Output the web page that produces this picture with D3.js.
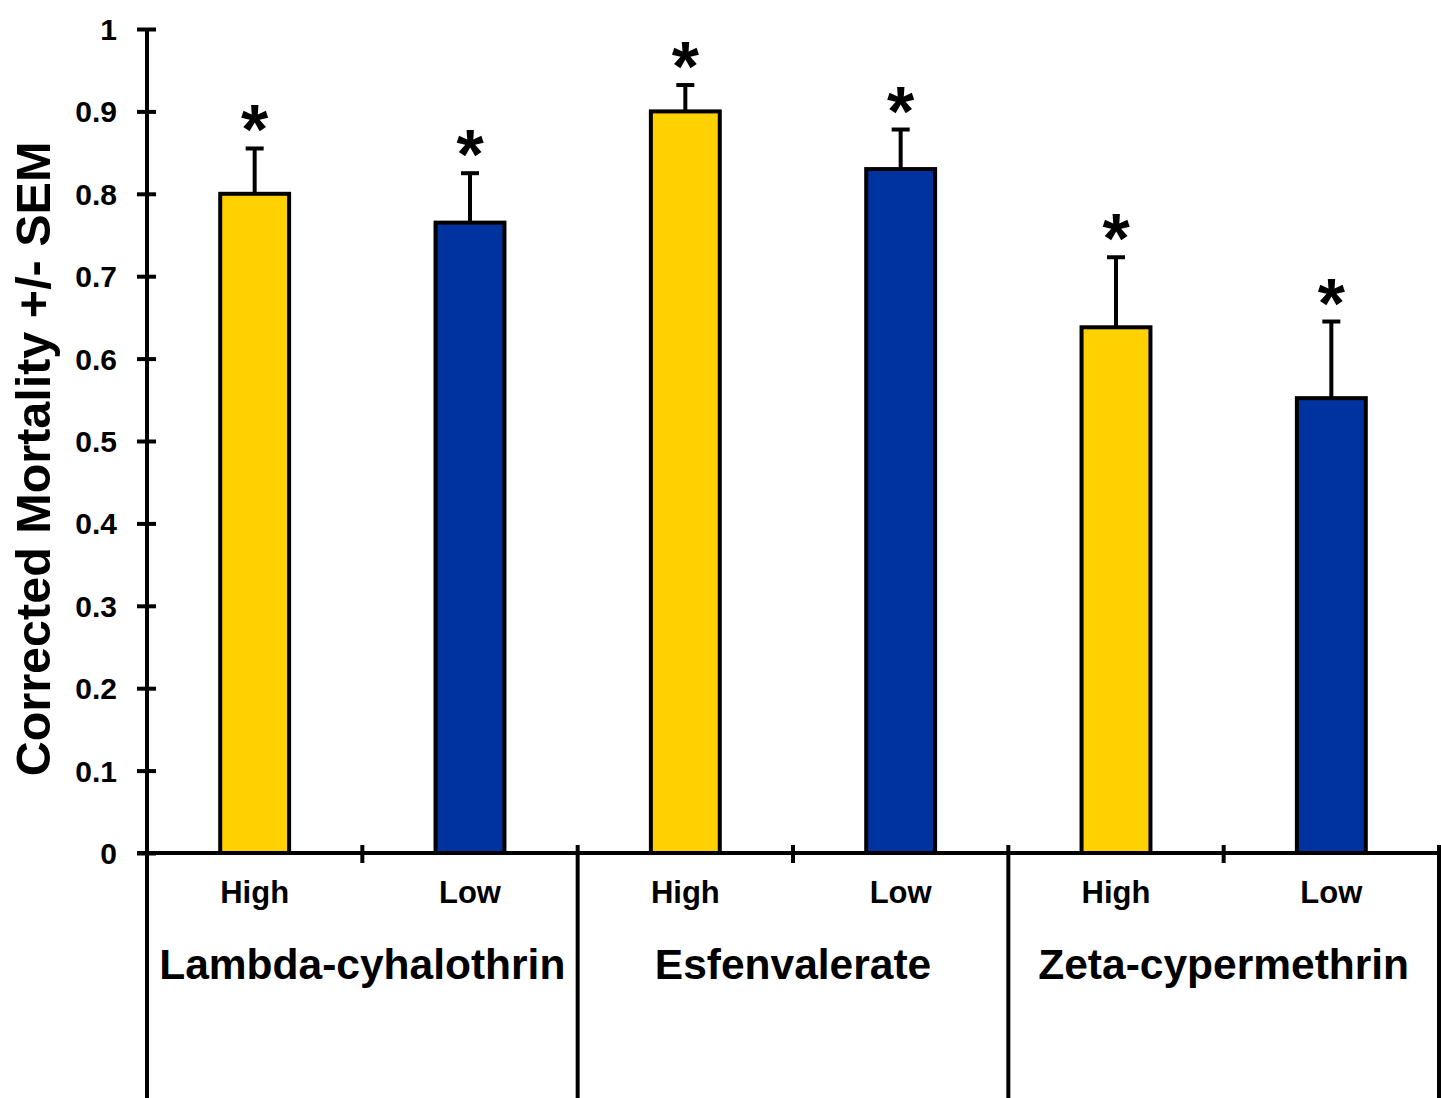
<!DOCTYPE html>
<html>
<head>
<meta charset="utf-8">
<script src="https://cdn.jsdelivr.net/npm/d3@7"></script>
<style>
  html, body { margin: 0; padding: 0; background: #fff; }
  svg { display: block; }
  text { font-family: "Liberation Sans", Arial, Helvetica, sans-serif; font-weight: bold; fill: #000; }
</style>
</head>
<body>
<svg id="chart" width="1441" height="1098"></svg>
<script>
// Corrected mortality by insecticide and dose
const insecticides = ["Lambda-cyhalothrin", "Esfenvalerate", "Zeta-cypermethrin"];
const doses = ["High", "Low"];
const mortality = [0.80, 0.765, 0.90, 0.83, 0.638, 0.552];
const sem = [0.055, 0.06, 0.032, 0.048, 0.085, 0.093];
const significant = [true, true, true, true, true, true];
const yTicks = [0, 0.1, 0.2, 0.3, 0.4, 0.5, 0.6, 0.7, 0.8, 0.9, 1];
const yTitle = "Corrected Mortality +/- SEM";
const doseColors = { High: "#FFD100", Low: "#0033A0" };

const svg = d3.select("#chart");
const plotLeft = 147, plotRight = 1439, plotTop = 29, plotBottom = 853;

// one slot per insecticide/dose pair
const bars = [];
insecticides.forEach((ins, i) => doses.forEach((d, j) => {
  const k = i * doses.length + j;
  bars.push({ key: ins + "|" + d, ins, dose: d, value: mortality[k], err: sem[k], sig: significant[k] });
}));

const x = d3.scaleBand().domain(bars.map(b => b.key)).range([plotLeft, plotRight]).paddingInner(0.68).paddingOuter(0.34);
const xGroup = d3.scaleBand().domain(insecticides).range([plotLeft, plotRight]);
const y = d3.scaleLinear().domain([0, 1]).range([plotBottom, plotTop]);

// bars
svg.append("g").selectAll("rect").data(bars).join("rect")
  .attr("x", d => x(d.key))
  .attr("y", d => y(d.value))
  .attr("width", x.bandwidth())
  .attr("height", d => y(0) - y(d.value))
  .attr("fill", d => doseColors[d.dose])
  .attr("stroke", "#000")
  .attr("stroke-width", 4);

// upper error bars
const eb = svg.append("g").attr("stroke", "#000").attr("stroke-width", 4);
bars.forEach(b => {
  const cx = x(b.key) + x.bandwidth() / 2;
  eb.append("line").attr("x1", cx).attr("x2", cx).attr("y1", y(b.value)).attr("y2", y(b.value + b.err));
  eb.append("line").attr("x1", cx - 9).attr("x2", cx + 9).attr("y1", y(b.value + b.err)).attr("y2", y(b.value + b.err));
});

// significance markers
svg.append("g").selectAll("text").data(bars.filter(b => b.sig)).join("text")
  .attr("x", d => x(d.key) + x.bandwidth() / 2)
  .attr("y", d => y(d.value + d.err) + 6)
  .attr("text-anchor", "middle")
  .attr("font-size", 70)
  .text("*");

// y axis
const yAxis = svg.append("g").attr("transform", `translate(${plotLeft},0)`)
  .call(d3.axisLeft(y).tickValues(yTicks).tickFormat(d3.format("")).tickSize(10).tickPadding(20));
yAxis.select(".domain").remove();
yAxis.append("line").attr("x1", 0).attr("x2", 0).attr("y1", plotTop).attr("y2", plotBottom)
  .attr("stroke", "#000").attr("stroke-width", 4);
yAxis.selectAll(".tick line").attr("x1", -10).attr("x2", 9).attr("stroke", "#000").attr("stroke-width", 4);
yAxis.selectAll(".tick text").attr("font-size", 30).attr("font-weight", "bold")
  .attr("font-family", "'Liberation Sans', Arial, sans-serif").attr("fill", "#000").attr("dy", "0.35em");

// y axis title
svg.append("text")
  .attr("transform", "translate(50,459) rotate(-90)")
  .attr("text-anchor", "middle")
  .attr("font-size", 48.5)
  .text(yTitle);

// x axis line
const ax = svg.append("g").attr("stroke", "#000").attr("stroke-width", 4);
ax.append("line").attr("x1", plotLeft - 10).attr("x2", 1441).attr("y1", plotBottom).attr("y2", plotBottom);

// group separators running to the bottom edge
const seps = insecticides.map(g => xGroup(g)).concat([xGroup(insecticides[insecticides.length - 1]) + xGroup.bandwidth()]);
seps.forEach(sx => ax.append("line").attr("x1", sx).attr("x2", sx).attr("y1", plotBottom - 8).attr("y2", 1098));

// short ticks between doses inside each group
insecticides.forEach(g => {
  const mx = xGroup(g) + xGroup.bandwidth() / 2;
  ax.append("line").attr("x1", mx).attr("x2", mx).attr("y1", plotBottom - 8).attr("y2", plotBottom + 10);
});

// dose labels
svg.append("g").selectAll("text").data(bars).join("text")
  .attr("x", d => x(d.key) + x.bandwidth() / 2)
  .attr("y", 903)
  .attr("text-anchor", "middle")
  .attr("font-size", 31)
  .text(d => d.dose);

// insecticide labels
svg.append("g").selectAll("text").data(insecticides).join("text")
  .attr("x", d => xGroup(d) + xGroup.bandwidth() / 2)
  .attr("y", 979)
  .attr("text-anchor", "middle")
  .attr("font-size", 42.5)
  .text(d => d);
</script>
</body>
</html>
